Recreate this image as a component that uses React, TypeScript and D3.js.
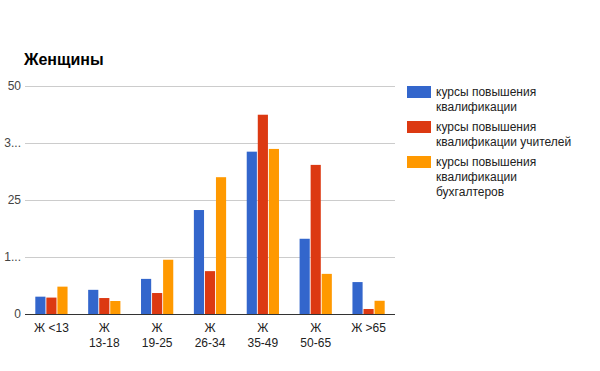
import React, { useEffect, useRef } from 'react';
import * as d3 from 'd3';

const categories = ['Ж <13', 'Ж 13-18', 'Ж 19-25', 'Ж 26-34', 'Ж 35-49', 'Ж 50-65', 'Ж >65'];
const seriesNames = [
  'курсы повышения квалификации',
  'курсы повышения квалификации учителей',
  'курсы повышения квалификации бухгалтеров',
];
const legendLines = [
  ['курсы повышения', 'квалификации'],
  ['курсы повышения', 'квалификации учителей'],
  ['курсы повышения', 'квалификации', 'бухгалтеров'],
];
const general = [3.8, 5.3, 7.7, 22.8, 35.6, 16.5, 7];
const teachers = [3.6, 3.5, 4.6, 9.4, 43.7, 32.7, 1.1];
const accountants = [6, 2.85, 11.9, 30, 36.2, 8.8, 2.9];
const yTicks = [0, 12.5, 25, 37.5, 50];
const yTickLabels = ['0', '1...', '25', '3...', '50'];
const colors = ['#3366cc', '#dc3912', '#ff9900'];

const App = () => {
  const chartRef = useRef<HTMLDivElement>(null);

  useEffect(() => {
    if (chartRef.current) {
      d3.select(chartRef.current).selectAll('*').remove();
    }

    const width = 600;
    const height = 371;
    const margin = { top: 86, right: 205, bottom: 57, left: 25 };
    const font = 'Arial, "Liberation Sans", sans-serif';
    const series = [general, teachers, accountants];

    const svg = d3
      .select(chartRef.current)
      .append('svg')
      .attr('width', width)
      .attr('height', height)
      .style('display', 'block')
      .style('overflow', 'visible')
      .style('font-family', font);

    svg.append('rect').attr('width', width).attr('height', height).attr('fill', '#fff');

    const x0 = d3
      .scaleBand()
      .domain(categories)
      .range([margin.left, width - margin.right])
      .paddingInner(0.39)
      .paddingOuter(0.195);

    const x1 = d3
      .scaleBand()
      .domain(seriesNames)
      .range([0, x0.bandwidth()])
      .paddingInner(0.08);

    const y = d3
      .scaleLinear()
      .domain([0, 50])
      .range([height - margin.bottom, margin.top]);

    // title
    svg
      .append('text')
      .attr('x', 24)
      .attr('y', 65)
      .attr('font-size', 16)
      .attr('font-weight', 'bold')
      .attr('fill', '#000')
      .text('Женщины');

    // gridlines
    svg
      .append('g')
      .selectAll('line')
      .data(yTicks.filter((t) => t !== 0))
      .join('line')
      .attr('x1', margin.left)
      .attr('x2', width - margin.right)
      .attr('y1', (d) => Math.round(y(d)) + 0.5)
      .attr('y2', (d) => Math.round(y(d)) + 0.5)
      .attr('stroke', '#cccccc');

    // y labels
    svg
      .append('g')
      .selectAll('text')
      .data(yTicks)
      .join('text')
      .attr('x', 21)
      .attr('y', (d) => y(d) + 4)
      .attr('text-anchor', 'end')
      .attr('font-size', 12)
      .attr('fill', '#444')
      .text((d, i) => yTickLabels[i]);

    // bars
    const groups = svg
      .append('g')
      .selectAll('g')
      .data(categories)
      .join('g')
      .attr('transform', (d) => `translate(${x0(d)},0)`);

    groups
      .selectAll('rect')
      .data((d, i) => series.map((s, j) => ({ key: seriesNames[j], value: s[i], color: colors[j] })))
      .join('rect')
      .attr('x', (d) => x1(d.key) as number)
      .attr('width', x1.bandwidth())
      .attr('y', (d) => y(d.value))
      .attr('height', (d) => y(0) - y(d.value))
      .attr('fill', (d) => d.color);

    // baseline
    svg
      .append('line')
      .attr('x1', margin.left)
      .attr('x2', width - margin.right)
      .attr('y1', Math.round(y(0)) + 0.5)
      .attr('y2', Math.round(y(0)) + 0.5)
      .attr('stroke', '#333');

    // x labels
    const xl = svg
      .append('g')
      .selectAll('text')
      .data(categories)
      .join('text')
      .attr('text-anchor', 'middle')
      .attr('font-size', 12)
      .attr('fill', '#222');

    xl.each(function (d) {
      const cx = (x0(d) as number) + x0.bandwidth() / 2;
      const sel = d3.select(this);
      const parts = d === 'Ж <13' || d === 'Ж >65' ? [d] : d.split(' ');
      parts.forEach((p, k) => {
        sel
          .append('tspan')
          .attr('x', cx)
          .attr('y', 332 + k * 15)
          .text(p);
      });
    });

    // legend
    const legendTop = [86, 121, 156];
    const legend = svg
      .append('g')
      .selectAll('g')
      .data(seriesNames)
      .join('g')
      .attr('transform', (d, i) => `translate(407,${legendTop[i]})`);

    legend
      .append('rect')
      .attr('width', 24)
      .attr('height', 12)
      .attr('fill', (d, i) => colors[i]);

    legend
      .append('text')
      .attr('font-size', 12)
      .attr('fill', '#222')
      .each(function (d, i) {
        const sel = d3.select(this);
        legendLines[i].forEach((line, k) => {
          sel
            .append('tspan')
            .attr('x', 29)
            .attr('y', 10 + k * 15)
            .text(line);
        });
      });
  }, []);

  return <div ref={chartRef} style={{ position: 'absolute', left: 0, top: 0 }}></div>;
};

export default App;
